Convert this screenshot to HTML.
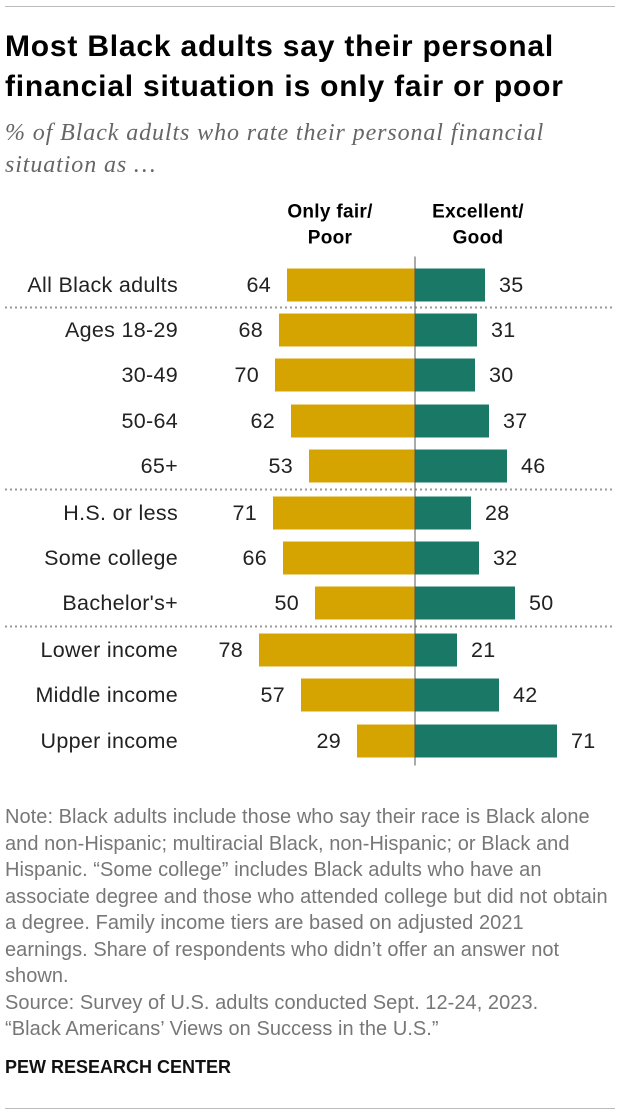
<!DOCTYPE html>
<html><head><meta charset="utf-8"><style>
body{margin:0;background:#fff;width:620px;height:1116px;overflow:hidden;font-family:"Liberation Sans",sans-serif;position:relative}
.t{position:absolute;left:5px;top:27px;font-size:30px;font-weight:bold;line-height:40px;color:#000;width:615px;letter-spacing:0.8px;white-space:nowrap}
.sub{position:absolute;left:5px;top:117px;font-family:"Liberation Serif",serif;font-style:italic;font-size:24px;line-height:32px;color:#666;letter-spacing:0.9px;white-space:nowrap}
.note{position:absolute;left:5px;top:804px;font-size:20px;line-height:26.5px;color:#777;width:615px;white-space:nowrap;letter-spacing:0.05px}
.foot{position:absolute;left:5px;top:1057px;font-size:18px;font-weight:bold;color:#111}
.line{position:absolute;left:5px;right:5px;height:1px;background:#bbb}
</style></head><body>
<div class="line" style="top:6px"></div>
<div class="t">Most Black adults say their personal<br>financial situation is only fair or poor</div>
<div class="sub">% of Black adults who rate their personal financial<br>situation as …</div>
<svg id="c" width="620" height="800" style="position:absolute;left:0;top:190px"></svg>
<div class="note">Note: Black adults include those who say their race is Black alone<br>and non-Hispanic; multiracial Black, non-Hispanic; or Black and<br>Hispanic. “Some college” includes Black adults who have an<br>associate degree and those who attended college but did not obtain<br>a degree. Family income tiers are based on adjusted 2021<br>earnings. Share of respondents who didn’t offer an answer not<br>shown.<br>Source: Survey of U.S. adults conducted Sept. 12-24, 2023.<br>“Black Americans’ Views on Success in the U.S.”</div>
<div class="foot">PEW RESEARCH CENTER</div>
<div class="line" style="top:1108px"></div>
<script>
const categories=["All Black adults","Ages 18-29","30-49","50-64","65+","H.S. or less","Some college","Bachelor's+","Lower income","Middle income","Upper income"];
const fairPoor=[64,68,70,62,53,71,66,50,78,57,29];
const excellentGood=[35,31,30,37,46,28,32,50,21,42,71];
const rowCenters=[95,140,185,231,276,323,368,413,460,505,551];
const separatorsAfter=[0,4,7];
const svg=document.getElementById('c');
const NS='http://www.w3.org/2000/svg';
const axisX=415, k=2, barH=33;
function mk(t,a){const e=document.createElementNS(NS,t);for(const n in a)e.setAttribute(n,a[n]);svg.appendChild(e);return e;}
function txt(x,y,s,anchor,extra){const e=mk('text',Object.assign({x:x,y:y,'text-anchor':anchor,'font-size':21.5,'letter-spacing':0.3,'font-family':'Liberation Sans, sans-serif',fill:'#222','dominant-baseline':'central'},extra||{}));e.textContent=s;return e;}
let h=txt(330,22,'Only fair/','middle',{'font-weight':'bold','font-size':19,fill:'#000'});


h=txt(330,48,'Poor','middle',{'font-weight':'bold','font-size':19,fill:'#000'});


h=txt(478,22,'Excellent/','middle',{'font-weight':'bold','font-size':19,fill:'#000'});


h=txt(478,48,'Good','middle',{'font-weight':'bold','font-size':19,fill:'#000'});


categories.forEach((c,i)=>{
  const y=rowCenters[i];
  let l=txt(178,y,c,'end');
  
  
  let b=mk('rect',{x:axisX-fairPoor[i]*k,y:y-barH/2,width:fairPoor[i]*k,height:barH,fill:'#d6a400'});
  
  
  b=mk('rect',{x:axisX,y:y-barH/2,width:excellentGood[i]*k,height:barH,fill:'#1a7866'});
  
  
  l=txt(axisX-fairPoor[i]*k-16,y,String(fairPoor[i]),'end');
  
  
  l=txt(axisX+excellentGood[i]*k+14,y,String(excellentGood[i]),'start');
  
  
});
separatorsAfter.forEach(i=>{
  const y=(rowCenters[i]+rowCenters[i+1])/2;
  const s=mk('line',{x1:5,x2:615,y1:y,y2:y,stroke:'#999','stroke-width':2,'stroke-dasharray':'2,3'});
  
  
});
const ax=mk('line',{x1:axisX,x2:axisX,y1:rowCenters[0]-barH/2-12,y2:rowCenters[rowCenters.length-1]+barH/2+8,stroke:'#555','stroke-width':1});


</script>
</body></html>
